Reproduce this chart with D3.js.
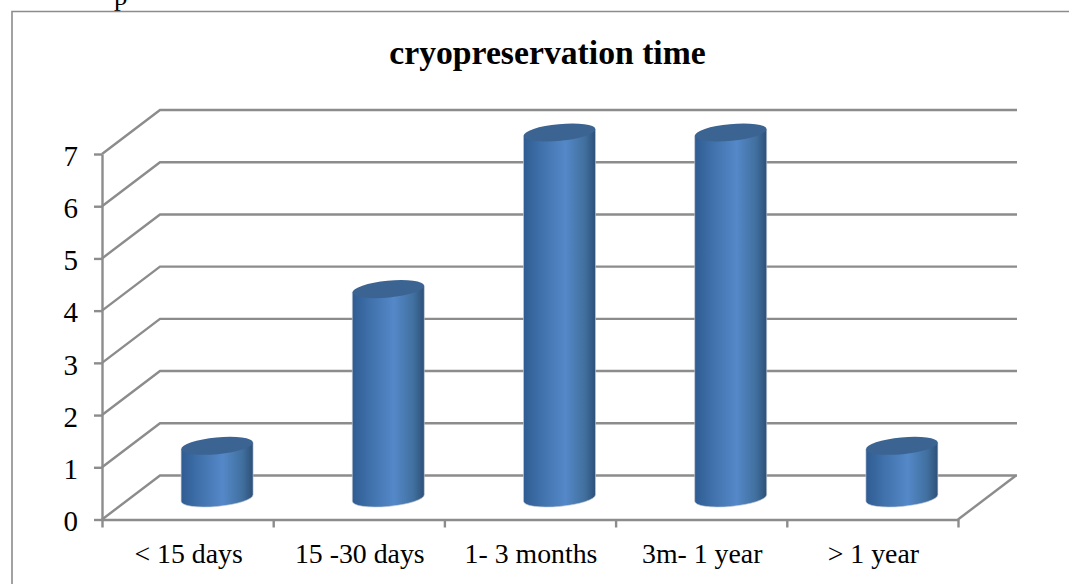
<!DOCTYPE html>
<html>
<head>
<meta charset="utf-8">
<script src="https://cdnjs.cloudflare.com/ajax/libs/d3/7.8.5/d3.min.js"></script>
<style>
html, body { margin: 0; padding: 0; background: #fff; overflow: hidden; }
text { font-family: "Liberation Serif", serif; fill: #000; }
</style>
</head>
<body>
<svg width="1069" height="584"></svg>
<script>
var categories = ["< 15 days", "15 -30 days", "1- 3 months", "3m- 1 year", "> 1 year"];
var values = [1, 4, 7, 7, 1];
var yTicks = [0, 1, 2, 3, 4, 5, 6, 7];

var svg = d3.select("svg");
var grey = "#8c8c8c";

var left = 102, right = 958, bottom = 519.5, top7 = 154;
var depthX = 58, depthY = 44;

var x = d3.scaleBand().domain(categories).range([left, right]);
var y = d3.scaleLinear().domain([0, 7]).range([bottom, top7]);
var xEdges = d3.scaleLinear().domain([0, categories.length]).range([left, right]);

// bit of the document text above the chart, cut off by the frame
svg.append("text").text("p")
	.attr("x", 114).attr("y", 5)
	.style("font-size", "27px");

// outer frame
svg.append("path")
	.attr("d", "M12,584V11.5H1069")
	.attr("fill", "none")
	.attr("stroke", grey)
	.attr("stroke-width", 1.6);

svg.append("text").text("cryopreservation time")
	.attr("x", 547.5).attr("y", 64)
	.attr("text-anchor", "middle")
	.style("font-size", "33.7px")
	.style("font-weight", "bold");

// back wall gridlines and the slanted side wall
var grid = svg.append("g")
	.attr("fill", "none")
	.attr("stroke", grey)
	.attr("stroke-width", 2.4);

grid.selectAll("path")
	.data(yTicks)
	.enter().append("path")
	.attr("d", function(d) {
		return "M" + left + "," + y(d) +
			"L" + (left + depthX) + "," + (y(d) - depthY) +
			"H" + (right + depthX + 1);
	});

// floor edge on the right
grid.append("path")
	.attr("d", "M" + right + "," + y(0) + "L" + (right + depthX) + "," + (y(0) - depthY));

var yAxis = svg.append("g")
	.attr("transform", "translate(" + left + ",0)")
	.call(d3.axisLeft(y).tickValues(yTicks).tickSize(8).tickSizeOuter(0).tickPadding(16).tickFormat(d3.format("d")));

var xAxis = svg.append("g")
	.attr("transform", "translate(0," + bottom + ")")
	.call(d3.axisBottom(xEdges).tickValues(d3.range(categories.length + 1)).tickSize(8).tickSizeOuter(0).tickFormat(""));

var xLabels = svg.append("g")
	.attr("transform", "translate(1," + bottom + ")")
	.call(d3.axisBottom(x).tickSize(0).tickPadding(24));

xLabels.select(".domain").remove();
xLabels.selectAll("text").style("font-size", "27.8px");
yAxis.selectAll("text").style("font-size", "29px").attr("dy", "0.39em");
yAxis.attr("font-family", null);
xAxis.attr("font-family", null);
xLabels.attr("font-family", null);

[yAxis, xAxis].forEach(function(a) {
	a.selectAll(".domain, .tick line").attr("stroke", grey).attr("stroke-width", 2.4);
});

var defs = svg.append("defs");
var grad = defs.append("linearGradient").attr("id", "barFill");
grad.append("stop").attr("offset", "0%").attr("stop-color", "#2f5c92");
grad.append("stop").attr("offset", "25%").attr("stop-color", "#4071ab");
grad.append("stop").attr("offset", "58%").attr("stop-color", "#5488c8");
grad.append("stop").attr("offset", "85%").attr("stop-color", "#41709f");
grad.append("stop").attr("offset", "100%").attr("stop-color", "#2c5078");

var rx = 36, ry = 8.4, tilt = -5.5, slope = 3.3;
var lift = 21.5;

function cx(d, i) { return x(categories[i]) + x.bandwidth() / 2 + depthX / 2 + 0.5; }

function barPath(d, i) {
	var c = cx(d, i);
	var t = y(d) - lift, b = y(0) - lift;
	return "M" + (c - rx) + "," + (t + slope) +
		"L" + (c - rx) + "," + (b + slope) +
		"A" + rx + "," + ry + " " + tilt + " 0 0 " + (c + rx) + "," + (b - slope) +
		"L" + (c + rx) + "," + (t - slope) + "Z";
}

var bars = svg.selectAll(".bar")
	.data(values)
	.enter().append("g")
	.attr("class", "bar");

bars.append("path")
	.attr("d", barPath)
	.attr("fill", "url(#barFill)")
	.attr("stroke", "#c9ced6")
	.attr("stroke-width", 0.6);

bars.append("ellipse")
	.attr("cx", 0).attr("cy", 0)
	.attr("rx", rx).attr("ry", ry)
	.attr("transform", function(d, i) {
		return "translate(" + cx(d, i) + "," + (y(d) - lift) + ") rotate(" + tilt + ")";
	})
	.attr("fill", "#3b6492");
</script>
</body>
</html>
